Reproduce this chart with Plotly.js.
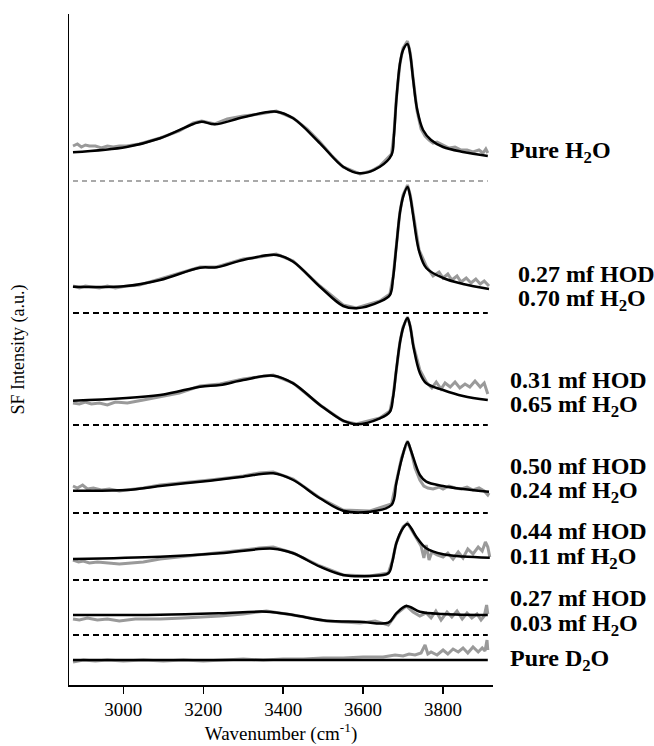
<!DOCTYPE html>
<html>
<head>
<meta charset="utf-8">
<script src="https://cdn.plot.ly/plotly-3.0.1.min.js"></script>
<style>html,body{margin:0;padding:0;background:#fff;}#chart{width:654px;height:746px;}</style>
</head>
<body>
<div id="chart"></div>
<script>
// Vertical offsets (a.u.) of each spectrum, top to bottom
const offsets = [504, 372, 260, 172, 105, 50, 0];
const dashedLevels = [504, 372, 260, 172, 105, 50];

// Fit curves (black): wavenumber and intensity above offset
const fitX1 = [2874,3008,3092,3175,3196,3229,3300,3383,3425,3492,3550,3592,3642,3671,3677,3683,3692,3700,3711,3718,3725,3735,3750,3770,3800,3850,3912];
const fitY1 = [28.7,34,42.7,57,59.3,56.7,63.7,69.3,62.7,37.7,14.3,7.7,14.3,26,45,80,117,131,137,126,102,72,51,41,34,29,25];

const fitX2 = [2874,3008,3092,3192,3233,3300,3383,3425,3492,3550,3583,3642,3667,3675,3683,3692,3700,3711,3718,3725,3740,3758,3800,3850,3915];
const fitY2 = [26.3,27,33,45.3,45.7,53,58,51.3,26.3,7,4.7,11.3,18,35,66,100,116,126,116,98,62,45,35,29,24];

const fitX3 = [2874,3092,3192,3242,3300,3375,3425,3492,3550,3583,3642,3667,3675,3683,3692,3700,3711,3718,3726,3742,3758,3800,3850,3912];
const fitY3 = [24.3,30,38.3,40,45,49.3,41.7,20,4.3,0.7,6.7,13.3,28,55,82,97,107,98,78,52,41.7,35,29,25];

const fitX4 = [2874,3008,3092,3217,3300,3375,3425,3492,3550,3617,3671,3683,3696,3711,3720,3742,3758,3800,3850,3915];
const fitY4 = [22.3,23,27,32.3,36.3,39.7,33,14.7,2.3,1.3,8,29.7,53,71,62,38,31.3,27,24,21.3];

const fitX5 = [2874,3092,3242,3375,3425,3492,3550,3617,3663,3673,3683,3700,3711,3720,3733,3758,3800,3850,3917];
const fitY5 = [21,23.3,26.7,31.3,26.7,13.3,5,4,6.7,18,36.7,52,56,52,43.3,31.7,25.7,23.5,22.3];

const fitX6 = [2874,3092,3242,3358,3425,3508,3592,3663,3683,3708,3742,3800,3912];
const fitY6 = [20,20.3,21.7,23.3,20,14.3,13.3,12.3,21.7,29,23.3,21,20];

const fitX7 = [2874,3912];
const fitY7 = [25,25];

// Raw data (grey)
const rawX1 = [2874,2885,2895,2905,2915,2930,2945,2960,2975,2990,3008,3040,3092,3140,3175,3196,3229,3260,3300,3340,3383,3425,3460,3492,3520,3550,3592,3620,3642,3671,3677,3683,3692,3700,3711,3718,3725,3735,3745,3755,3765,3775,3785,3800,3815,3830,3845,3860,3875,3890,3900,3907,3912];
const rawY1 = [35,37,34,36,35,35,33,35,34,35,35,37,43,50,58,60,57,62,65,67,70,63,52,39,26,14,7,10,15,27,46,82,117,133,140,128,103,70,52,45,41,38,39,36,33,34,31,31,29,31,28,32,28];

const rawX2 = [2874,2890,2905,2920,2940,2960,2980,3008,3040,3092,3140,3192,3233,3300,3340,3383,3425,3492,3550,3583,3642,3667,3675,3683,3692,3700,3711,3718,3725,3740,3758,3775,3790,3800,3812,3822,3835,3845,3858,3870,3882,3893,3903,3915];
const rawY2 = [27,25,27,26,25,27,25,27,28,34,40,46,46,54,56,59,52,27,8,5,12,19,36,67,101,118,128,118,99,63,47,37,41,35,39,33,37,31,35,30,34,29,32,27];

const rawX3 = [2874,2890,2905,2920,2940,2960,2980,3010,3050,3092,3140,3192,3242,3300,3340,3375,3425,3492,3550,3583,3642,3667,3675,3683,3692,3700,3711,3718,3726,3742,3758,3772,3783,3795,3805,3818,3830,3842,3855,3867,3880,3893,3903,3912];
const rawY3 = [22,21,23,21,22,20,23,22,25,28,32,39,41,46,48,50,42,20,4,1,7,14,29,56,83,98,108,99,79,55,43,37,43,36,42,38,43,37,41,38,44,38,42,31];

const rawX4 = [2874,2885,2898,2910,2925,2945,2965,2990,3008,3050,3092,3150,3217,3260,3300,3340,3375,3425,3492,3550,3617,3671,3683,3696,3711,3720,3730,3742,3752,3762,3775,3790,3800,3815,3830,3845,3860,3875,3890,3903,3912,3915];
const rawY4 = [27,25,28,24,25,23,24,22,23,25,28,30,33,35,37,40,41,34,15,3,2,9,31,55,72,62,45,33,27,25,24,26,24,27,25,24,26,23,25,22,18,20];

const rawX5 = [2874,2888,2900,2915,2935,2960,2990,3020,3050,3092,3140,3190,3242,3300,3340,3375,3425,3492,3550,3617,3663,3673,3683,3700,3711,3720,3733,3745,3752,3758,3765,3772,3785,3800,3812,3825,3838,3850,3862,3875,3888,3898,3906,3912,3917];
const rawY5 = [20,18,19,17,18,17,16,17,18,21,23,25,27,30,32,33,27,14,5,4,7,19,37,53,57,51,42,34,22,35,20,28,25,23,27,21,28,22,31,26,33,29,38,33,23];

const rawX6 = [2874,2890,2910,2935,2960,2990,3030,3092,3150,3200,3242,3300,3358,3425,3470,3508,3550,3592,3630,3663,3683,3708,3725,3742,3758,3770,3782,3795,3810,3822,3835,3848,3860,3872,3885,3895,3903,3909,3912];
const rawY6 = [16,15,17,15,16,14,16,16,17,18,19,21,24,20,17,14,13,12,14,10,21,29,23,19,22,17,24,15,23,18,24,16,22,17,21,15,19,30,21];

const rawX7 = [2874,2900,2930,2960,3000,3050,3100,3150,3200,3250,3300,3350,3400,3450,3500,3550,3600,3650,3680,3700,3715,3730,3745,3755,3762,3770,3785,3800,3812,3825,3838,3850,3862,3875,3888,3898,3905,3910,3912];
const rawY7 = [23,25,24,25,24,25,24,25,24,25,26,25,26,26,27,27,28,28,30,29,31,30,32,40,31,33,30,35,31,36,33,37,32,38,33,37,34,45,35];

const tickVals = [3000, 3200, 3400, 3600, 3800];

const fits = [[fitX1,fitY1],[fitX2,fitY2],[fitX3,fitY3],[fitX4,fitY4],[fitX5,fitY5],[fitX6,fitY6],[fitX7,fitY7]];
const raws = [[rawX1,rawY1],[rawX2,rawY2],[rawX3,rawY3],[rawX4,rawY4],[rawX5,rawY5],[rawX6,rawY6],[rawX7,rawY7]];

const traces = [];
// dashed zero lines
dashedLevels.forEach((lv, i) => {
  traces.push({
    x: [2874, 3912], y: [lv, lv], mode: 'lines', hoverinfo: 'skip', showlegend: false,
    line: i === 0 ? {color: '#555', width: 1.2, dash: '5px,4px'} : {color: '#000', width: 2, dash: '6px,4px'}
  });
});
raws.forEach((r, i) => {
  traces.push({
    x: r[0], y: r[1].map(v => v + offsets[i]), mode: 'lines', showlegend: false,
    line: {color: '#9a9a9a', width: 3, shape: 'linear'}
  });
});
fits.forEach((f, i) => {
  traces.push({
    x: f[0], y: f[1].map(v => v + offsets[i]), mode: 'lines', showlegend: false,
    line: {color: '#000', width: 2.5, shape: 'spline', smoothing: 1}
  });
});

const L = 69, R = 493, T = 14, B = 685;
function px(x) { return (x - L) / (R - L); }
function py(y) { return (B - y) / (B - T); }
const labelFont = {family: 'Liberation Serif, Times New Roman, serif', size: 24, color: '#000'};
const labels = [
  ['<b>Pure H<sub>2</sub>O</b>', 508, 152],
  ['<b>0.27 mf HOD</b>', 516, 274],
  ['<b>0.70 mf H<sub>2</sub>O</b>', 516, 300],
  ['<b>0.31 mf HOD</b>', 508, 380],
  ['<b>0.65 mf H<sub>2</sub>O</b>', 508, 406],
  ['<b>0.50 mf HOD</b>', 508, 466],
  ['<b>0.24 mf H<sub>2</sub>O</b>', 508, 492],
  ['<b>0.44 mf HOD</b>', 508, 531],
  ['<b>0.11 mf H<sub>2</sub>O</b>', 508, 558],
  ['<b>0.27 mf HOD</b>', 508, 598],
  ['<b>0.03 mf H<sub>2</sub>O</b>', 508, 625],
  ['<b>Pure D<sub>2</sub>O</b>', 508, 660]
];
const annotations = labels.map(l => ({
  text: l[0], xref: 'paper', yref: 'paper', x: px(l[1]), y: py(l[2]),
  xanchor: 'left', yanchor: 'middle', showarrow: false, font: labelFont
}));

const serif = 'Liberation Serif, Times New Roman, serif';
const layout = {
  width: 654, height: 746,
  margin: {l: L, r: 654 - R, t: T, b: 746 - B, pad: 0},
  paper_bgcolor: '#fff', plot_bgcolor: '#fff',
  showlegend: false,
  xaxis: {
    range: [2864, 3925], tickvals: tickVals, ticks: 'outside', ticklen: 7, tickwidth: 1.5, tickcolor: '#000',
    showline: true, linecolor: '#000', linewidth: 1.5, showgrid: false, zeroline: false,
    tickfont: {family: serif, size: 19, color: '#000'},
    title: {text: 'Wavenumber (cm<sup>-1</sup>)', font: {family: serif, size: 19, color: '#000'}, standoff: 1}
  },
  yaxis: {
    range: [0, 671], showticklabels: false, ticks: '', showline: true, linecolor: '#000', linewidth: 1.5,
    showgrid: false, zeroline: false,
    title: {text: 'SF Intensity (a.u.)', font: {family: serif, size: 18, color: '#000'}, standoff: 38}
  },
  annotations: annotations
};
Plotly.newPlot('chart', traces, layout, {displayModeBar: false, staticPlot: true});
</script>
</body>
</html>
